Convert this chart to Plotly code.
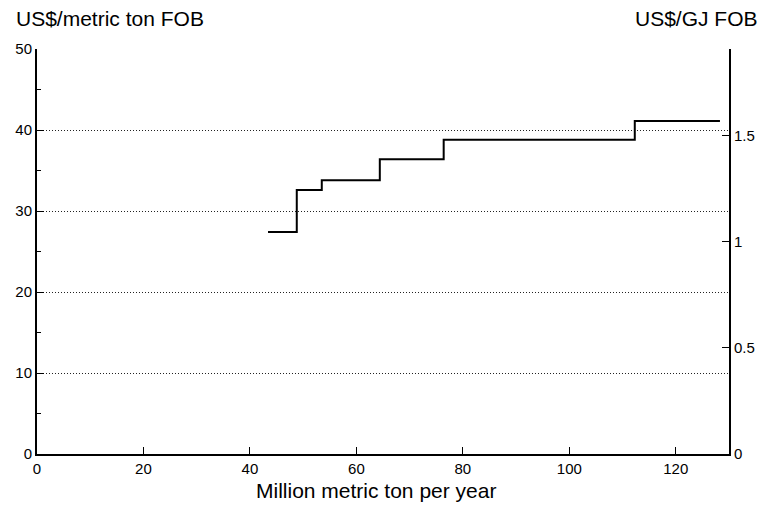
import plotly.graph_objects as go

# Step boundaries (million metric ton per year) and price levels (US$/metric ton FOB)
capacity = [43.4, 48.8, 53.5, 64.4, 76.4, 112.3, 128.3]
price = [27.4, 32.6, 33.8, 36.4, 38.8, 41.1, 41.1]

x_ticks = [0, 20, 40, 60, 80, 100, 120]
y_left_ticks = [0, 10, 20, 30, 40, 50]
grid_vals = [10, 20, 30, 40]
y_right_ticks = [0, 0.5, 1, 1.5]
y_right_labels = ["0", "0.5", "1", "1.5"]
gj_per_ton = 26.2

FONT = "Liberation Sans, Arial, sans-serif"

fig = go.Figure()
fig.add_trace(go.Scatter(
    x=capacity, y=price, mode="lines", line_shape="hv",
    line=dict(color="black", width=2), showlegend=False, hoverinfo="skip"))

fig.update_layout(
    width=762, height=508,
    margin=dict(l=37, r=33, t=49, b=54, autoexpand=False),
    paper_bgcolor="white", plot_bgcolor="white",
    font=dict(family=FONT, color="black", size=15),
    showlegend=False,
    xaxis=dict(
        range=[0, 130], tickvals=x_ticks, ticks="inside", ticklen=7,
        tickcolor="black", showline=True, linecolor="black", linewidth=2,
        showgrid=False, zeroline=False, automargin=False,
        tickfont=dict(size=15),
    ),
    yaxis=dict(
        range=[0, 50], tickvals=y_left_ticks, ticks="inside", ticklen=7,
        tickcolor="black", showline=True, linecolor="black", linewidth=2,
        showgrid=False, zeroline=False, tickfont=dict(size=15), automargin=False,
        minor=dict(dtick=5, ticks="inside", ticklen=4, tickcolor="black", showgrid=False),
    ),
    yaxis2=dict(
        overlaying="y", side="right", range=[0, 50 / gj_per_ton],
        tickvals=y_right_ticks, ticktext=y_right_labels,
        ticks="inside", ticklen=7, tickcolor="black", automargin=False,
        showline=True, linecolor="black", linewidth=2,
        showgrid=False, zeroline=False, tickfont=dict(size=15),
    ),
    yaxis3=dict(
        overlaying="y", range=[0, 50], tickvals=grid_vals, automargin=False,
        showticklabels=False, ticks="", showline=False, zeroline=False,
        showgrid=True, gridcolor="#222", gridwidth=1, griddash="1px,2px",
    ),
    annotations=[
        dict(text="US$/metric ton FOB", xref="paper", yref="paper",
             x=-0.0332, y=1.0765, xanchor="left", yanchor="middle",
             showarrow=False, font=dict(size=21)),
        dict(text="US$/GJ FOB", xref="paper", yref="paper",
             x=1.0448, y=1.0765, xanchor="right", yanchor="middle",
             showarrow=False, font=dict(size=21)),
        dict(text="Million metric ton per year", xref="paper", yref="paper",
             x=0.490, y=-0.089, xanchor="center", yanchor="middle",
             showarrow=False, font=dict(size=21)),
    ],
)

# invisible traces to activate overlay axes
fig.add_trace(go.Scatter(x=[None], y=[None], yaxis="y2", showlegend=False))
fig.add_trace(go.Scatter(x=[None], y=[None], yaxis="y3", showlegend=False))

fig.write_html("out.html", config={"displayModeBar": False},
               post_script="document.body.style.margin='0';")
